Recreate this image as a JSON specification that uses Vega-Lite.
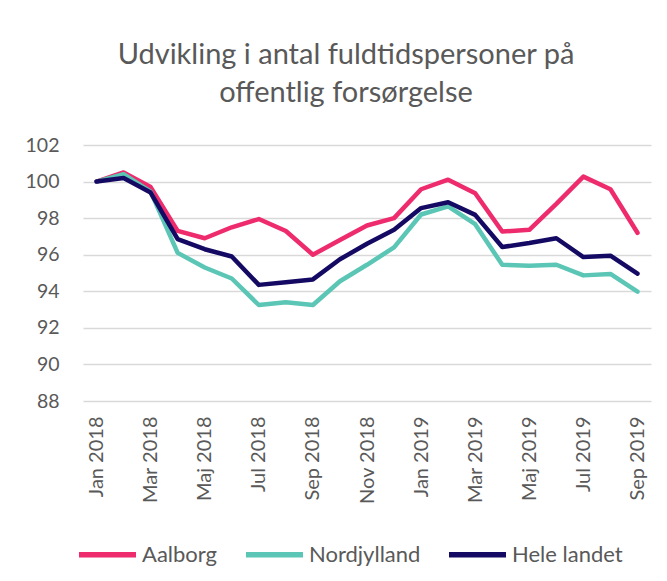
{
  "$schema": "https://vega.github.io/schema/vega-lite/v6.json",
  "autosize": "none",
  "width": 568,
  "height": 256,
  "padding": {"left": 83, "top": 145, "right": 16, "bottom": 180},
  "background": "white",
  "title": {
    "text": ["Udvikling i antal fuldtidspersoner på", "offentlig forsørgelse"],
    "fontSize": 29,
    "font": "Lato",
    "fontWeight": "normal",
    "color": "#595959",
    "anchor": "middle",
    "offset": 27,
    "dx": -21,
    "lineHeight": 38
  },
  "data": {
    "values": [
      {"month": "Jan 2018", "series": "Aalborg", "value": 100},
      {"month": "Feb 2018", "series": "Aalborg", "value": 100.5},
      {"month": "Mar 2018", "series": "Aalborg", "value": 99.7},
      {"month": "Apr 2018", "series": "Aalborg", "value": 97.3},
      {"month": "Maj 2018", "series": "Aalborg", "value": 96.9},
      {"month": "Jun 2018", "series": "Aalborg", "value": 97.5},
      {"month": "Jul 2018", "series": "Aalborg", "value": 97.95},
      {"month": "Aug 2018", "series": "Aalborg", "value": 97.3},
      {"month": "Sep 2018", "series": "Aalborg", "value": 96.0},
      {"month": "Okt 2018", "series": "Aalborg", "value": 96.8},
      {"month": "Nov 2018", "series": "Aalborg", "value": 97.6},
      {"month": "Dec 2018", "series": "Aalborg", "value": 98.0},
      {"month": "Jan 2019", "series": "Aalborg", "value": 99.58},
      {"month": "Feb 2019", "series": "Aalborg", "value": 100.1},
      {"month": "Mar 2019", "series": "Aalborg", "value": 99.36},
      {"month": "Apr 2019", "series": "Aalborg", "value": 97.27},
      {"month": "Maj 2019", "series": "Aalborg", "value": 97.36},
      {"month": "Jun 2019", "series": "Aalborg", "value": 98.78},
      {"month": "Jul 2019", "series": "Aalborg", "value": 100.27},
      {"month": "Aug 2019", "series": "Aalborg", "value": 99.58},
      {"month": "Sep 2019", "series": "Aalborg", "value": 97.2},
      {"month": "Jan 2018", "series": "Nordjylland", "value": 100},
      {"month": "Feb 2018", "series": "Nordjylland", "value": 100.4},
      {"month": "Mar 2018", "series": "Nordjylland", "value": 99.45},
      {"month": "Apr 2018", "series": "Nordjylland", "value": 96.1},
      {"month": "Maj 2018", "series": "Nordjylland", "value": 95.3},
      {"month": "Jun 2018", "series": "Nordjylland", "value": 94.7},
      {"month": "Jul 2018", "series": "Nordjylland", "value": 93.25},
      {"month": "Aug 2018", "series": "Nordjylland", "value": 93.4},
      {"month": "Sep 2018", "series": "Nordjylland", "value": 93.25},
      {"month": "Okt 2018", "series": "Nordjylland", "value": 94.55},
      {"month": "Nov 2018", "series": "Nordjylland", "value": 95.45},
      {"month": "Dec 2018", "series": "Nordjylland", "value": 96.4},
      {"month": "Jan 2019", "series": "Nordjylland", "value": 98.2},
      {"month": "Feb 2019", "series": "Nordjylland", "value": 98.64},
      {"month": "Mar 2019", "series": "Nordjylland", "value": 97.67},
      {"month": "Apr 2019", "series": "Nordjylland", "value": 95.45},
      {"month": "Maj 2019", "series": "Nordjylland", "value": 95.4},
      {"month": "Jun 2019", "series": "Nordjylland", "value": 95.45},
      {"month": "Jul 2019", "series": "Nordjylland", "value": 94.87},
      {"month": "Aug 2019", "series": "Nordjylland", "value": 94.95},
      {"month": "Sep 2019", "series": "Nordjylland", "value": 93.98},
      {"month": "Jan 2018", "series": "Hele landet", "value": 100},
      {"month": "Feb 2018", "series": "Hele landet", "value": 100.2},
      {"month": "Mar 2018", "series": "Hele landet", "value": 99.4},
      {"month": "Apr 2018", "series": "Hele landet", "value": 96.85},
      {"month": "Maj 2018", "series": "Hele landet", "value": 96.3},
      {"month": "Jun 2018", "series": "Hele landet", "value": 95.9},
      {"month": "Jul 2018", "series": "Hele landet", "value": 94.35},
      {"month": "Aug 2018", "series": "Hele landet", "value": 94.5},
      {"month": "Sep 2018", "series": "Hele landet", "value": 94.65},
      {"month": "Okt 2018", "series": "Hele landet", "value": 95.75},
      {"month": "Nov 2018", "series": "Hele landet", "value": 96.6},
      {"month": "Dec 2018", "series": "Hele landet", "value": 97.36},
      {"month": "Jan 2019", "series": "Hele landet", "value": 98.55},
      {"month": "Feb 2019", "series": "Hele landet", "value": 98.87},
      {"month": "Mar 2019", "series": "Hele landet", "value": 98.18},
      {"month": "Apr 2019", "series": "Hele landet", "value": 96.42},
      {"month": "Maj 2019", "series": "Hele landet", "value": 96.64},
      {"month": "Jun 2019", "series": "Hele landet", "value": 96.9},
      {"month": "Jul 2019", "series": "Hele landet", "value": 95.87},
      {"month": "Aug 2019", "series": "Hele landet", "value": 95.95},
      {"month": "Sep 2019", "series": "Hele landet", "value": 94.96}
    ]
  },
  "mark": {"type": "line", "strokeWidth": 4.5, "strokeJoin": "round", "strokeCap": "round"},
  "encoding": {
    "x": {
      "field": "month",
      "type": "nominal",
      "sort": null,
      "scale": {"type": "point", "padding": 0.5},
      "axis": {
        "title": null,
        "values": ["Jan 2018", "Mar 2018", "Maj 2018", "Jul 2018", "Sep 2018", "Nov 2018", "Jan 2019", "Mar 2019", "Maj 2019", "Jul 2019", "Sep 2019"],
        "labelAngle": -90,
        "labelAlign": "right",
        "labelBaseline": "middle",
        "labelPadding": 15,
        "ticks": false,
        "domain": false,
        "grid": false,
        "labelFont": "Lato",
        "labelFontSize": 20,
        "labelColor": "#595959"
      }
    },
    "y": {
      "field": "value",
      "type": "quantitative",
      "scale": {"domain": [88, 102], "nice": false, "zero": false},
      "axis": {
        "title": null,
        "values": [88, 90, 92, 94, 96, 98, 100, 102],
        "ticks": false,
        "domain": false,
        "grid": true,
        "gridColor": "#d9d9d9",
        "gridWidth": 1.5,
        "labelPadding": 24,
        "labelFont": "Lato",
        "labelFontSize": 19.5,
        "labelColor": "#595959"
      }
    },
    "color": {
      "field": "series",
      "type": "nominal",
      "sort": ["Aalborg", "Nordjylland", "Hele landet"],
      "scale": {
        "domain": ["Aalborg", "Nordjylland", "Hele landet"],
        "range": ["#EE2B6C", "#5BC6B5", "#150A63"]
      },
      "legend": {
        "title": null,
        "orient": "none",
        "direction": "horizontal",
        "legendX": -7,
        "legendY": 378,
        "symbolType": "stroke",
        "symbolSize": 3249,
        "symbolStrokeWidth": 5.5,
        "labelFont": "Lato",
        "labelFontSize": 22,
        "labelColor": "#595959",
        "labelOffset": 3,
        "columnPadding": 17
      }
    }
  },
  "config": {
    "view": {"stroke": null},
    "font": "Lato"
  }
}
